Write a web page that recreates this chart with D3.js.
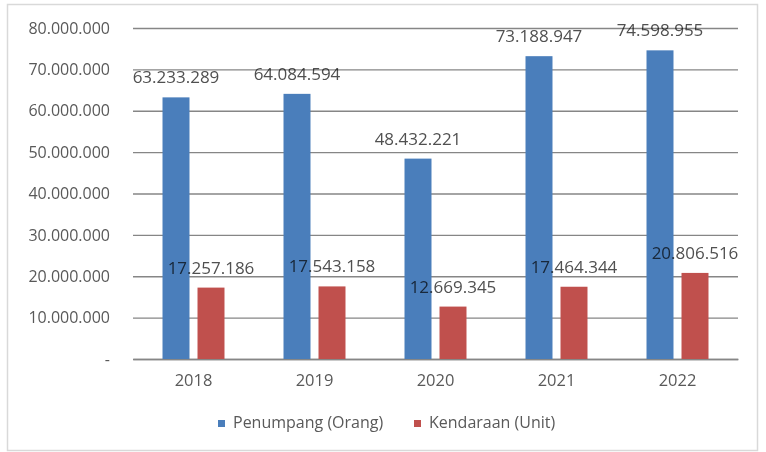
<!DOCTYPE html>
<html><head><meta charset="utf-8">
<script src="https://cdn.jsdelivr.net/npm/d3@7"></script>
<style>
body{margin:0;background:#fff;}
svg{display:block;font-family:"Open Sans",sans-serif;}
</style></head>
<body>
<svg id="c" width="766" height="452"></svg>
<script>
const categories = ["2018","2019","2020","2021","2022"];
const seriesNames = ["Penumpang (Orang)","Kendaraan (Unit)"];
const penumpang = [63233289, 64084594, 48432221, 73188947, 74598955];
const kendaraan = [17257186, 17543158, 12669345, 17464344, 20806516];
const yTicks = [0,10000000,20000000,30000000,40000000,50000000,60000000,70000000,80000000];
const colors = ["#4a7ebb","#c0504d"];

const loc = d3.formatLocale({decimal:",", thousands:".", grouping:[3], currency:["",""]});
const fmt = loc.format(",d");

const svg = d3.select("#c");
const m = {left:133, right:738, top:28, bottom:359};

svg.append("rect").attr("x",7.5).attr("y",4.5).attr("width",750).attr("height",446)
  .attr("fill","#fff").attr("stroke","#d9d9d9").attr("stroke-width",1.5);

const y = d3.scaleLinear().domain([0,80000000]).range([m.bottom,m.top]);
const x0 = d3.scaleBand().domain(categories).range([m.left,m.right]).paddingInner(0).paddingOuter(0);
const x1 = d3.scaleBand().domain([0,1]).range([0,x0.bandwidth()]).paddingInner(0.229).paddingOuter(0.843);

// gridlines
const yAxis = d3.axisLeft(y).tickValues(yTicks).tickSize(-(m.right-m.left)).tickPadding(23)
  .tickFormat(d => d===0 ? "-" : fmt(d));
const gy = svg.append("g").attr("transform",`translate(${m.left},0)`).call(yAxis);
gy.select(".domain").remove();
gy.selectAll(".tick line").attr("stroke","#868686").attr("stroke-width",1.3);
gy.selectAll(".tick text").attr("fill","#595959").style("font-size","16px")
  .style("font-family","'Open Sans',sans-serif");

// x axis
const xAxis = d3.axisBottom(x0).tickSize(0).tickPadding(15);
const gx = svg.append("g").attr("transform",`translate(0,${m.bottom})`).call(xAxis);
gx.select(".domain").attr("stroke","#868686").attr("stroke-width",1.3);
gx.selectAll(".tick text").attr("fill","#595959").style("font-size","16.5px")
  .style("font-family","'Open Sans',sans-serif");

const series = [penumpang, kendaraan];
series.forEach((vals, si) => {
  svg.append("g").selectAll("rect").data(vals).join("rect")
    .attr("x",(d,i)=>x0(categories[i])+x1(si))
    .attr("width",x1.bandwidth())
    .attr("y",d=>y(d))
    .attr("height",d=>m.bottom-y(d))
    .attr("fill",colors[si]);
});
series.forEach((vals, si) => {
  svg.append("g").selectAll("text").data(vals).join("text")
    .attr("x",(d,i)=>x0(categories[i])+x1(si)+x1.bandwidth()/2)
    .attr("y",d=>y(d)-14)
    .attr("text-anchor","middle")
    .attr("fill","#505050")
    .style("mix-blend-mode","multiply")
    .style("font-size","17px")
    .text(d=>fmt(d));
});

// legend
const legend = svg.append("g").attr("transform","translate(0,428)");
const lx = [218, 414];
seriesNames.forEach((n,i)=>{
  legend.append("rect").attr("x",lx[i]).attr("y",-8).attr("width",7).attr("height",7).attr("fill",colors[i]);
  legend.append("text").attr("x",lx[i]+15).attr("y",0).attr("fill","#595959")
    .style("font-size","16px").text(n);
});
</script>
</body></html>
